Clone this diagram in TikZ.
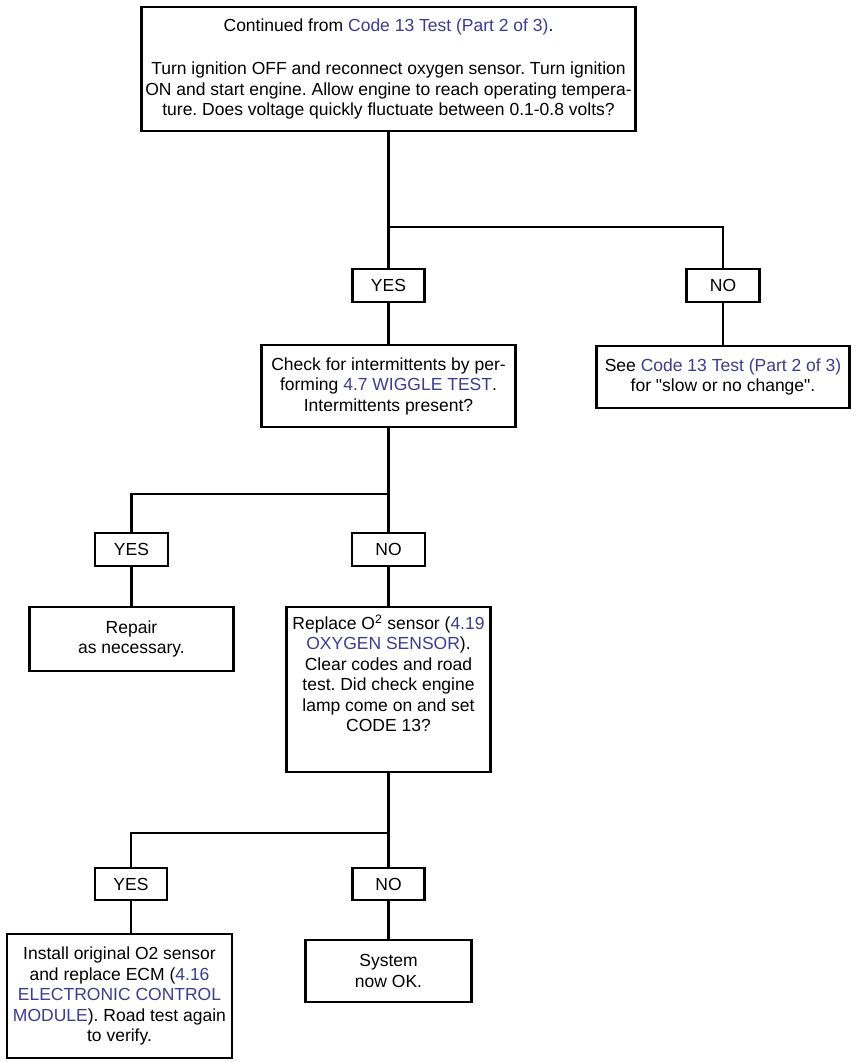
\documentclass[tikz,border=0pt]{standalone}
\usepackage{fontspec}
\setmainfont{Liberation Sans}
\newfontfamily\qfnt{Liberation Sans}[Ligatures=ResetAll]
\definecolor{lnk}{RGB}{60,60,145}
\newcommand{\lk}[1]{\textcolor{lnk}{#1}}
\newcommand{\sq}{{\qfnt\char34}}
\begin{document}
\frenchspacing
\begin{tikzpicture}[x=1pt,y=-1pt,
  box/.style={draw, line width=2.8pt, inner sep=0pt, align=center,
    font=\fontsize{17.5}{20.5}\selectfont},
  wire/.style={line width=2.8pt}]
\useasboundingbox[fill=white] (0,0) rectangle (856,1062);

\node[box, minimum width=494, minimum height=124] (top) at (388.5,69)
  {Continued from \lk{Code 13 Test (Part 2 of 3)}.\\[23pt]
   Turn ignition OFF and reconnect oxygen sensor. Turn ignition\\
   ON and start engine. Allow engine to reach operating tempera-\\
   ture. Does voltage quickly fluctuate between 0.1-0.8 volts?};

\node[box, minimum width=72, minimum height=33] (yes1) at (388.5,285.5) {YES};
\node[box, minimum width=73, minimum height=33] (no1) at (723,285.5) {NO};

\node[box, minimum width=254, minimum height=82] (check) at (388.5,386)
  {Check for intermittents by per-\\
   forming \lk{4.7 WIGGLE TEST}.\\
   Intermittents present?};
\node[box, minimum width=253, minimum height=62] (see) at (723,377)
  {See \lk{Code 13 Test (Part 2 of 3)}\\
   for \sq slow or no change\sq.};

\node[box, minimum width=73, minimum height=33] (yes2) at (131.5,549.5) {YES};
\node[box, minimum width=73, minimum height=33] (no2) at (388.5,549.5) {NO};

\node[box, minimum width=204, minimum height=64] (repair) at (131.5,639)
  {Repair\\as necessary.};
\node[box, minimum width=204, minimum height=165] (replace) at (388.5,689.5)
  {\parbox[c][150pt][t]{200pt}{\centering
   Replace O\textsuperscript{2} sensor (\lk{4.19}\\
   \lk{OXYGEN SENSOR}).\\
   Clear codes and road\\
   test. Did check engine\\
   lamp come on and set\\
   CODE 13?}};

\node[box, minimum width=72, minimum height=32] (yes3) at (131,884) {YES};
\node[box, minimum width=72, minimum height=32] (no3) at (388.5,884) {NO};

\node[box, minimum width=225, minimum height=124] (install) at (119.5,996)
  {Install original O2 sensor\\
   and replace ECM (\lk{4.16}\\
   \lk{ELECTRONIC CONTROL}\\
   \lk{MODULE}). Road test again\\
   to verify.};
\node[box, minimum width=166, minimum height=62] (system) at (388.5,971)
  {System\\now OK.};

\coordinate (j1) at (388.5,227);
\coordinate (j2) at (388.5,494);
\coordinate (j3) at (388.5,833);

\draw[wire] (top.south) -- (yes1.north);
\draw[wire] (j1) -| (no1.north);
\draw[wire] (yes1.south) -- (check.north);
\draw[wire] (no1.south) -- (see.north);
\draw[wire] (check.south) -- (no2.north);
\draw[wire] (j2) -| (yes2.north);
\draw[wire] (yes2.south) -- (repair.north);
\draw[wire] (no2.south) -- (replace.north);
\draw[wire] (replace.south) -- (no3.north);
\draw[wire] (j3) -| (yes3.north);
\draw[wire] (yes3.south) -- (yes3.south |- install.north);
\draw[wire] (no3.south) -- (system.north);
\end{tikzpicture}
\end{document}
